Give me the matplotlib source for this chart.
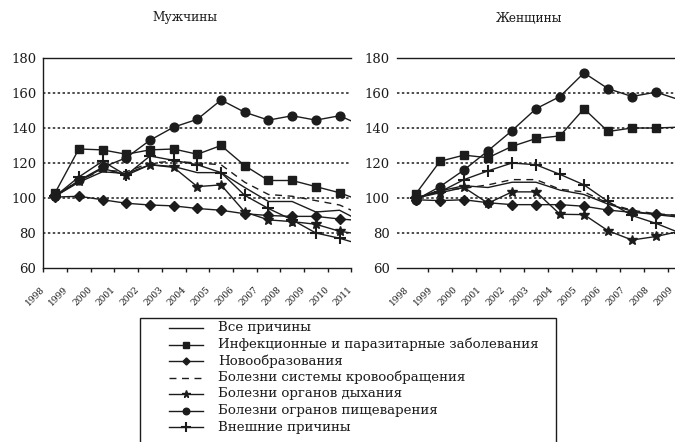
import numpy as np
import matplotlib
matplotlib.use("Agg")
import matplotlib.pyplot as plt
import matplotlib.transforms as mtrans
from matplotlib.lines import Line2D
from matplotlib.patches import Rectangle

plt.rcParams['font.family'] = ['DejaVu Serif', 'DejaVu Sans']

# --- data (index values) ---
years_men = list(range(1998, 2012))
years_women = list(range(1998, 2011))

labels = ["Все причины",
          "Инфекционные и паразитарные заболевания",
          "Новообразования",
          "Болезни системы кровообращения",
          "Болезни органов дыхания",
          "Болезни огранов пищеварения",
          "Внешние причины"]

men_all = [101, 109, 115, 114, 119, 118, 114.5, 114.5, 106, 98, 98, 92, 93, 86]
men_inf = [103, 128, 127.5, 125, 127.5, 128, 125, 130, 118.5, 110, 110, 106.5, 103, 98]
men_neo = [100.5, 101, 99, 97, 96, 95.5, 94, 93, 91, 90, 89.5, 89.5, 88, 87]
men_circ = [101, 110, 116, 115, 120, 121, 120, 119, 109, 102, 101, 98.5, 96, 90]
men_resp = [101, 109.5, 117, 113, 119, 117.5, 106.5, 107.5, 92, 87.5, 86.5, 85, 81, 79]
men_dig = [101, 110, 117.5, 123, 133, 140.5, 145, 156, 149, 144.5, 147, 144.5, 147, 141]
men_ext = [101, 112, 121, 113, 124, 121.5, 119, 114.5, 101.5, 94, 87.5, 80, 77, 73]

women_all = [100, 104, 107, 106, 109, 109, 104.5, 102, 96.5, 92.5, 90.5, 89]
women_inf = [102.5, 121, 124.5, 123, 129.5, 134, 135.5, 151, 138, 140, 140, 140.5]
women_neo = [99, 98.5, 99, 97.3, 96.2, 96.2, 96.2, 95.3, 93.1, 91.8, 90.7, 90]
women_circ = [100, 104.5, 105.5, 107.5, 110.5, 110.5, 105, 103.5, 97, 93, 91, 90]
women_resp = [100, 103, 106, 97, 103.5, 103.5, 90.7, 90.5, 81.3, 76, 78, 81]
women_dig = [99, 106.5, 116, 127, 138.5, 151, 158, 171.5, 162.5, 158, 160.5, 156]
women_ext = [100, 103.5, 110.5, 115.5, 120, 119, 113.5, 107.5, 98, 90, 85.5, 80]

men = [men_all, men_inf, men_neo, men_circ, men_resp, men_dig, men_ext]
women = [women_all, women_inf, women_neo, women_circ, women_resp, women_dig, women_ext]

ink = "#1c1c1c"
styles = [dict(marker=None, ls='-'),
          dict(marker='s', ms=6, ls='-'),
          dict(marker='D', ms=4.8, ls='-'),
          dict(marker=None, ls=(0, (5, 4))),
          dict(marker='*', ms=7.5, ls='-'),
          dict(marker='o', ms=6.3, ls='-'),
          dict(marker='+', ms=9, mew=1.5, ls='-')]

W, H = 675, 442
fig = plt.figure(figsize=(W / 100, H / 100), dpi=100)


def px_axes(x0, x1, y0, y1):
    return fig.add_axes([x0 / W, 1 - y1 / H, (x1 - x0) / W, (y1 - y0) / H])


def panel(ax, series, years, xlim, show_left, dx):
    x = np.arange(len(series[0])) + 0.5
    for vals, st in zip(series, styles):
        ax.plot(x, vals, color=ink, lw=1.0, mfc=ink, mec=ink, zorder=3, **st)
    for v in range(80, 180, 20):
        ax.axhline(v, color=ink, lw=1.1, ls=(0, (1.6, 1.6)), zorder=1)
    ax.set_ylim(60, 180)
    ax.set_xlim(*xlim)
    ax.set_yticks(range(60, 181, 20))
    ax.set_xticks(range(len(years)))
    ax.set_xticklabels([str(y) for y in years], rotation=45, ha='right', fontsize=6.5)
    ax.tick_params(axis='y', length=0, pad=5, labelsize=9.5, colors=ink)
    ax.tick_params(axis='x', length=3, width=1, pad=9, direction='out', colors=ink)
    for sp in ('top', 'bottom', 'left'):
        ax.spines[sp].set_color(ink)
        ax.spines[sp].set_linewidth(1.0)
    ax.spines['right'].set_visible(False)
    ax.spines['left'].set_visible(show_left)
    shift = mtrans.ScaledTranslation(dx / 100, 0, fig.dpi_scale_trans)
    for lab in ax.get_xticklabels():
        lab.set_transform(lab.get_transform() + shift)


ax1 = px_axes(43.3, 351.4, 58, 268)
panel(ax1, men, years_men, (0, 13), True, 3)

ax2 = px_axes(397, 700, 58, 268)
panel(ax2, women, years_women, (-7 / 24, 296 / 24), False, 7)
ax2.xaxis.get_major_ticks()[0].tick1line.set_visible(False)

fig.text(185 / W, 1 - 18 / H, "Мужчины", ha='center', va='center', fontsize=8.8, color=ink)
fig.text(529 / W, 1 - 18 / H, "Женщины", ha='center', va='center', fontsize=8.8, color=ink)

# legend drawn by hand in figure pixels
fig.add_artist(Rectangle((140 / W, -0.05), (556 - 140) / W, 1.05 - 318 / H, fill=False,
                         lw=1.0, ec=ink, transform=fig.transFigure))
for i, (lab, st) in enumerate(zip(labels, styles)):
    yy = 1 - (328 + 16.5 * i) / H
    fig.add_artist(Line2D([169 / W, 203 / W], [yy, yy], color=ink, lw=1.0, ls=st['ls'],
                          transform=fig.transFigure))
    if st['marker']:
        fig.add_artist(Line2D([186 / W], [yy], marker=st['marker'], ms=st['ms'] * 0.75,
                              mew=st.get('mew', 1.0), color=ink, ls='none',
                              transform=fig.transFigure))
    fig.text(218 / W, yy, lab, va='center', ha='left', fontsize=9.6, color=ink)

fig.savefig("out.png", dpi=100)
